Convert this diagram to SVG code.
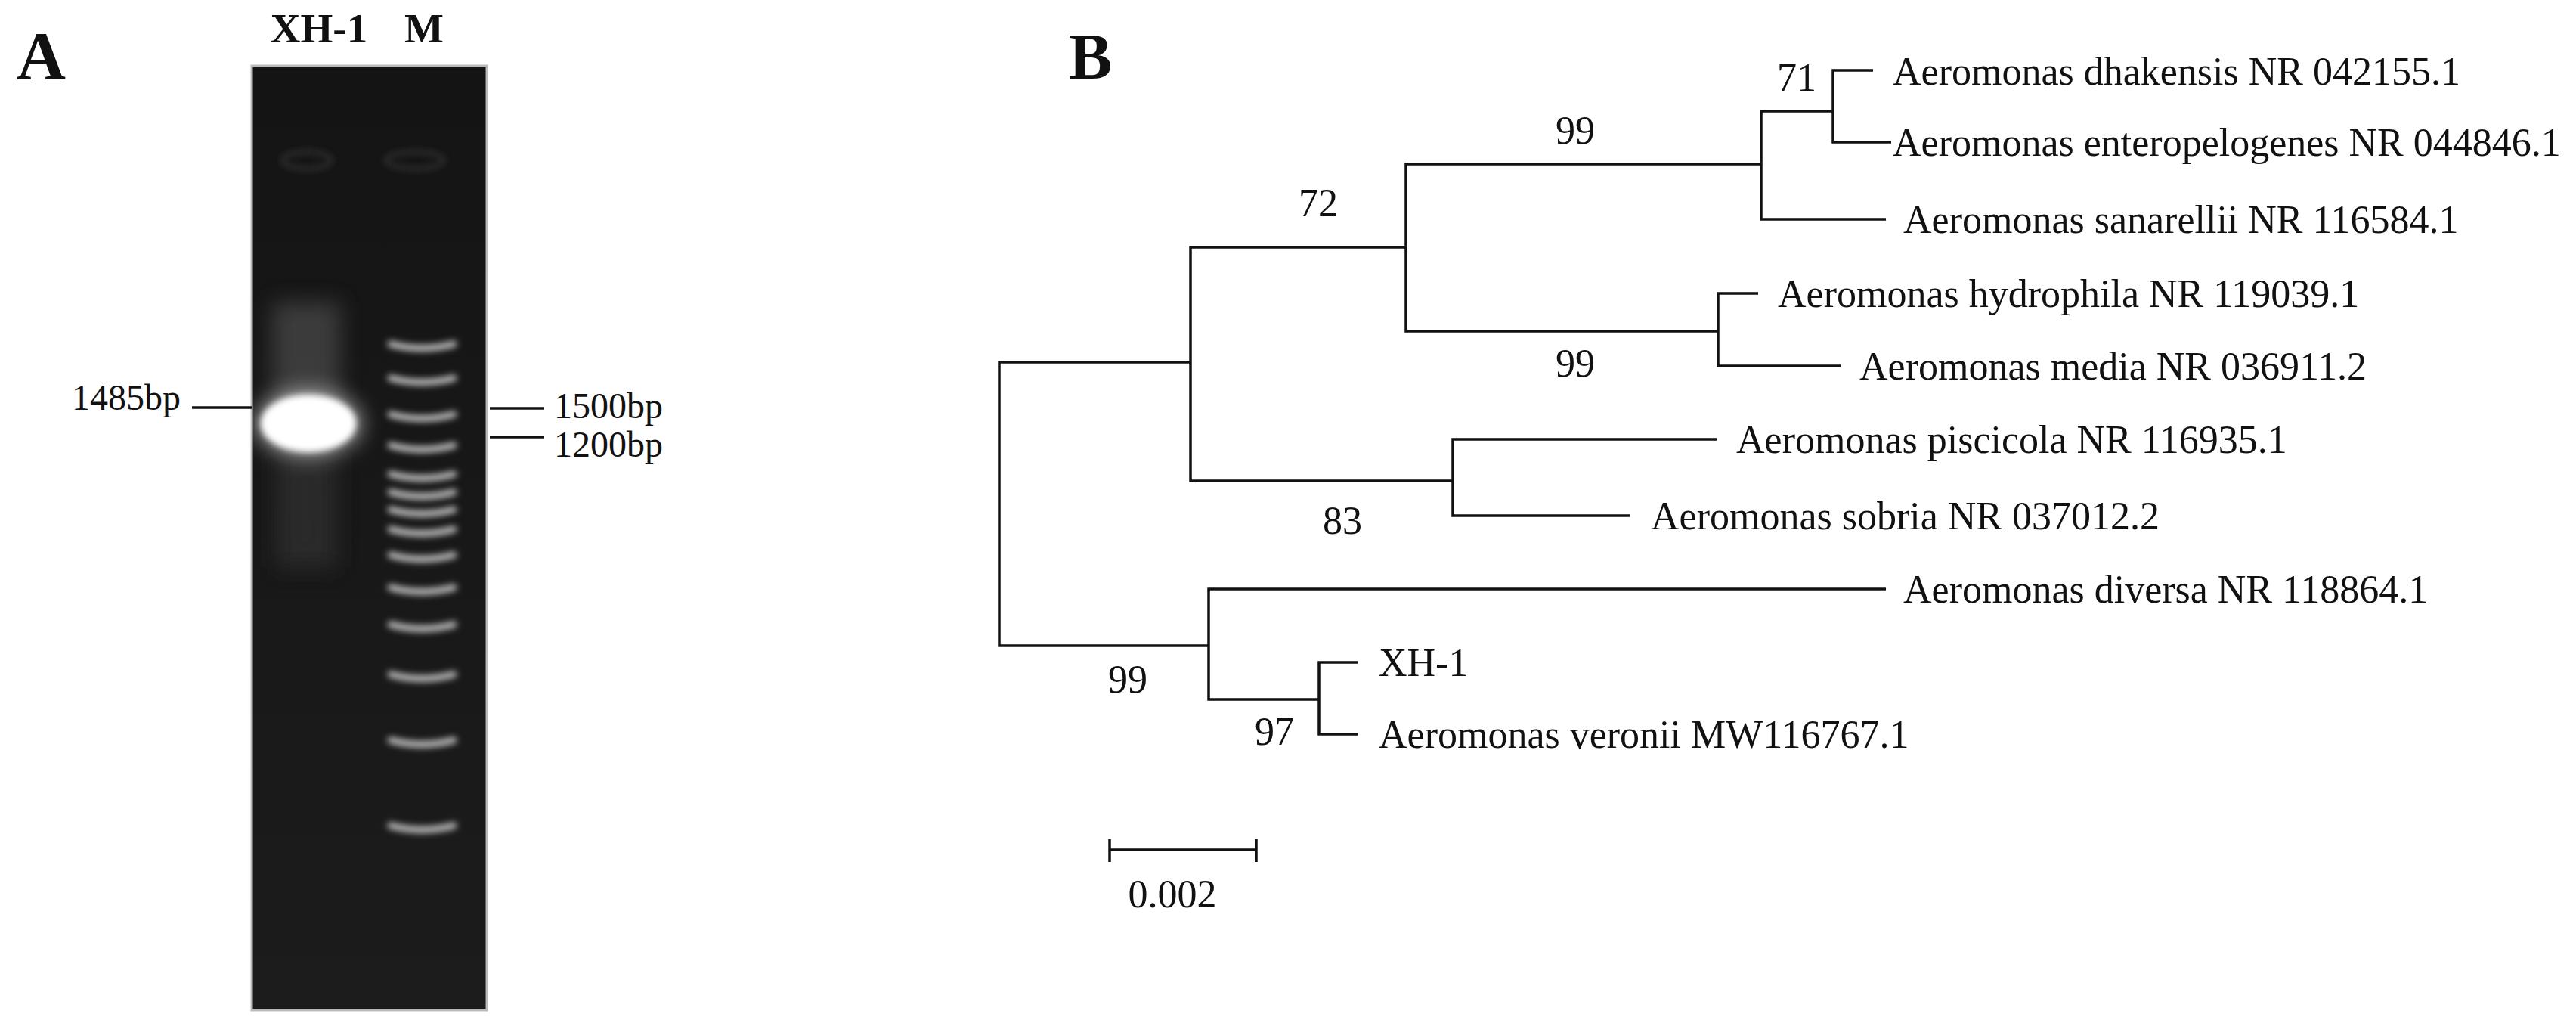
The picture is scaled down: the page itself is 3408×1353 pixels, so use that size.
<svg xmlns="http://www.w3.org/2000/svg" width="3408" height="1353" viewBox="0 0 3408 1353">
<style>
.s{font-family:"Liberation Serif","Times New Roman",serif;fill:#111}
.lbl{font-size:48px}
.bs{font-size:52px}
.br{stroke:#111;stroke-width:3.5;fill:none}
.lad{stroke:#bbb;stroke-width:9;fill:none;stroke-linecap:round}
</style>
<defs>
<filter id="bl" x="-50%" y="-50%" width="200%" height="200%"><feGaussianBlur stdDeviation="4"/></filter>
<filter id="bl2" x="-50%" y="-50%" width="200%" height="200%"><feGaussianBlur stdDeviation="14"/></filter>
<linearGradient id="gel" x1="0" y1="0" x2="0" y2="1"><stop offset="0" stop-color="#141414"/><stop offset="1" stop-color="#1c1c1c"/></linearGradient>
</defs>
<rect width="3408" height="1353" fill="#fff"/>
<g id="panelA">
<text class="s" x="22" y="105" font-size="90" font-weight="bold">A</text>
<text class="s" x="422" y="56" font-size="55" font-weight="bold" text-anchor="middle">XH-1</text>
<text class="s" x="561" y="56" font-size="55" font-weight="bold" text-anchor="middle">M</text>
<rect x="333" y="87" width="311" height="1249" fill="url(#gel)" stroke="#bbb" stroke-width="3"/>
<g filter="url(#bl)">
<ellipse cx="406" cy="212" rx="32" ry="11" fill="none" stroke="#333" stroke-width="5"/>
<ellipse cx="549" cy="212" rx="38" ry="11" fill="none" stroke="#333" stroke-width="5"/>
</g>
<rect x="360" y="400" width="90" height="130" fill="#555" opacity="0.6" filter="url(#bl2)"/>
<rect x="365" y="600" width="80" height="150" fill="#333" opacity="0.7" filter="url(#bl2)"/>
<ellipse cx="408" cy="560" rx="70" ry="44" fill="#fff" opacity="0.6" filter="url(#bl2)"/>
<ellipse cx="408" cy="560" rx="63" ry="38" fill="#fff" filter="url(#bl)"/>
<g filter="url(#bl)">
<path class="lad" d="M517 455 Q558 466 600 455"/>
<path class="lad" d="M517 500 Q558 511 600 500"/>
<path class="lad" d="M517 548 Q558 559 600 548"/>
<path class="lad" d="M517 589 Q558 600 600 589"/>
<path class="lad" d="M517 627 Q558 638 600 627" stroke="#eee" stroke-width="12"/>
<path class="lad" d="M517 651 Q558 662 600 651"/>
<path class="lad" d="M517 674 Q558 685 600 674"/>
<path class="lad" d="M517 700 Q558 711 600 700"/>
<path class="lad" d="M517 734 Q558 745 600 734"/>
<path class="lad" d="M517 777 Q558 788 600 777" stroke="#fff" stroke-width="12"/>
<path class="lad" d="M517 826 Q558 837 600 826"/>
<path class="lad" d="M517 892 Q558 903 600 892"/>
<path class="lad" d="M517 979 Q558 990 600 979"/>
<path class="lad" d="M517 1092 Q558 1103 600 1092" stroke="#999" stroke-width="12"/>
</g>
<line x1="254" y1="539" x2="333" y2="539" class="br"/>
<line x1="648" y1="540" x2="720" y2="540" class="br"/>
<line x1="648" y1="578" x2="720" y2="578" class="br"/>
<text class="s lbl" x="95" y="542">1485bp</text>
<text class="s lbl" x="733" y="553">1500bp</text>
<text class="s lbl" x="733" y="604">1200bp</text>
</g>
<g id="panelB">
<text class="s" x="1414" y="104" font-size="86" font-weight="bold">B</text>
<g id="connectors">
<path class="br" d="M1575 479H1322V854H1599"/>
<path class="br" d="M1860 327H1575V636H1922"/>
<path class="br" d="M2330 217H1860V438H2273"/>
<path class="br" d="M2425 147H2330V290H2495"/>
<path class="br" d="M2478 93H2425V188H2502"/>
<path class="br" d="M2326 388H2273V484H2435"/>
<path class="br" d="M2271 581H1922V682H2156"/>
<path class="br" d="M2495 779H1599V925H1745"/>
<path class="br" d="M1796 876H1745V971H1796"/>
<path class="br" d="M1468 1124H1662M1468 1110V1140M1662 1110V1140"/>
</g>
<g id="leaves">
<text class="s bs" x="2504" y="112">Aeromonas dhakensis NR 042155.1</text>
<text class="s bs" x="2504" y="206">Aeromonas enteropelogenes  NR 044846.1</text>
<text class="s bs" x="2518" y="308">Aeromonas sanarellii NR 116584.1</text>
<text class="s bs" x="2352" y="406">Aeromonas hydrophila NR 119039.1</text>
<text class="s bs" x="2460" y="502">Aeromonas media NR 036911.2</text>
<text class="s bs" x="2297" y="599">Aeromonas piscicola NR 116935.1</text>
<text class="s bs" x="2184" y="700">Aeromonas sobria NR 037012.2</text>
<text class="s bs" x="2518" y="797">Aeromonas diversa NR 118864.1</text>
<text class="s bs" x="1824" y="894">XH-1</text>
<text class="s bs" x="1824" y="989">Aeromonas veronii MW116767.1</text>
</g>
<g id="bootstrap">
<text class="s bs" x="2377" y="120" text-anchor="middle">71</text>
<text class="s bs" x="2084" y="190" text-anchor="middle">99</text>
<text class="s bs" x="1744" y="286" text-anchor="middle">72</text>
<text class="s bs" x="2084" y="498" text-anchor="middle">99</text>
<text class="s bs" x="1776" y="706" text-anchor="middle">83</text>
<text class="s bs" x="1492" y="916" text-anchor="middle">99</text>
<text class="s bs" x="1686" y="985" text-anchor="middle">97</text>
<text class="s bs" x="1551" y="1200" text-anchor="middle">0.002</text>
</g>
</g>
</svg>
